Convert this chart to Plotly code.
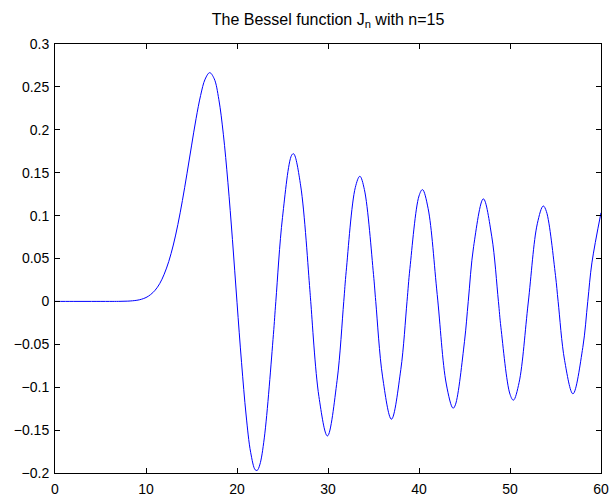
import plotly.graph_objects as go

# Values (J_15 over 0..60)
x_vals = [0, 2, 4, 6, 7, 8, 9, 9.5, 10, 10.5, 11, 11.5, 12, 12.5, 13, 13.5,
          14, 14.5, 15, 15.5, 16, 16.5, 17, 17.5, 18, 18.5, 19, 19.5,
          20, 20.5, 21, 21.5, 22, 22.215, 22.5, 23, 24, 24.267, 25, 26, 26.218,
          27, 28, 28.102, 29, 29.936, 31, 31.733, 32, 33, 33.501, 34, 35,
          35.247, 36, 36.973, 38, 38.684, 39, 40, 40.381, 41, 42, 43, 43.744,
          44, 45, 45.412, 46, 47.073, 48, 48.726, 49, 50, 50.374, 51, 52, 53,
          53.655, 54, 55, 55.289, 56, 56.919, 58, 58.546, 59, 60]
y_vals = [0, 0, 0, 0, 0.00005, 0.0003, 0.0013, 0.0025, 0.0045, 0.0079, 0.0130,
          0.0206, 0.0317, 0.0465, 0.0657, 0.0895, 0.1175, 0.1487, 0.1812,
          0.2129, 0.2400, 0.2591, 0.2666, 0.2594, 0.2356, 0.1948, 0.1388,
          0.0720, -0.0010, -0.0714, -0.1324, -0.1759, -0.1963, -0.1970,
          -0.1906, -0.1591, -0.0387, 0.0, 0.0979, 0.1703, 0.1721, 0.1346,
          0.0142, 0.0, -0.1108, -0.1568, -0.0920, 0.0, 0.0350, 0.1327, 0.1458,
          0.1303, 0.0314, 0.0, -0.0880, -0.1373, -0.0795, 0.0, 0.0382, 0.1229,
          0.1303, 0.1084, 0.0081, -0.0963, -0.1245, -0.1205, -0.0465, 0.0,
          0.0638, 0.1195, 0.0753, 0.0, -0.0301, -0.1082, -0.1151, -0.0945,
          -0.0019, 0.0905, 0.1112, 0.1048, 0.0301, 0.0, -0.0687, -0.1077,
          -0.0537, 0.0, 0.0449, 0.1033]

x_ticks = [0, 10, 20, 30, 40, 50, 60]
x_tick_labels = ["0", "10", "20", "30", "40", "50", "60"]
y_ticks = [-0.2, -0.15, -0.1, -0.05, 0, 0.05, 0.1, 0.15, 0.2, 0.25, 0.3]
y_tick_labels = ["\u22120.2", "\u22120.15", "\u22120.1", "\u22120.05", "0",
                 "0.05", "0.1", "0.15", "0.2", "0.25", "0.3"]

title_text = "The Bessel function J<sub>n</sub> with n=15"

FIG_W, FIG_H = 611, 503

fig = go.Figure()
fig.add_trace(go.Scatter(
    x=x_vals, y=y_vals, mode="lines",
    line=dict(color="#0000FF", width=1, shape="spline", smoothing=1),
    hoverinfo="skip", showlegend=False,
))

axis_common = dict(
    showline=True, linecolor="black", linewidth=1, mirror="ticks",
    ticks="inside", ticklen=5, tickcolor="black", tickwidth=1,
    showgrid=False, zeroline=False, automargin=False,
    tickfont=dict(family="Liberation Sans, Arial, sans-serif", size=14, color="black"),
)

fig.update_layout(
    width=FIG_W, height=FIG_H, autosize=False,
    margin=dict(l=55, r=10, t=44, b=30, pad=0),
    paper_bgcolor="white", plot_bgcolor="white",
    title=dict(text=title_text, x=0.5, xref="paper", xanchor="center",
               y=1 - 19 / FIG_H, yref="container", yanchor="middle",
               font=dict(family="Liberation Sans, Arial, sans-serif", size=16, color="black")),
    xaxis=dict(range=[0, 60], tickvals=x_ticks, ticktext=x_tick_labels,
               ticklabelstandoff=3, **axis_common),
    yaxis=dict(range=[-0.2, 0.3], tickvals=y_ticks, ticktext=y_tick_labels,
               ticklabelstandoff=2, **axis_common),
)

# remove the browser's default 8px body margin so the figure fills the window
fig.write_html(
    "out.html",
    config={"displayModeBar": False},
    post_script="document.body.style.margin='0';document.body.style.overflow='hidden';",
)
